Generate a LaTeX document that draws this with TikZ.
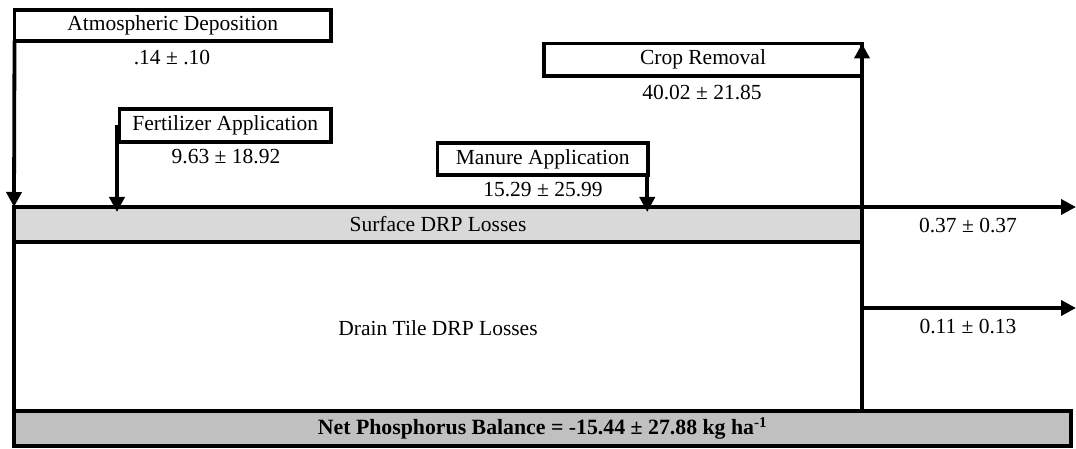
\documentclass[tikz,border=0pt]{standalone}
\usepackage{fontspec}
\setmainfont{Liberation Serif}
\usetikzlibrary{arrows.meta}
\definecolor{surfgray}{HTML}{D9D9D9}
\definecolor{netgray}{HTML}{C0C0C0}
\begin{document}
\begin{tikzpicture}[x=1pt,y=-1pt,
  every node/.style={font=\fontsize{21.5}{25}\selectfont, inner sep=0pt, outer sep=0pt},
  boxx/.style={draw, line width=3.8pt, anchor=center},
  lbl/.style={anchor=center},
  flow/.style={line width=3.8pt, -{Triangle[width=15pt,length=15pt]}},
  plain/.style={line width=3.8pt}]
\useasboundingbox (0,0) rectangle (1076,449);
% boxes
\node[boxx, minimum width=316.5pt, minimum height=31pt] (atm) at (172.75,25.5) {Atmospheric Deposition};
\node[boxx, minimum width=211.5pt, minimum height=33pt] (fert) at (225.25,125.5) {Fertilizer Application};
\node[boxx, minimum width=210.5pt, minimum height=32pt] (man) at (542.75,159) {Manure Application};
\node[boxx, minimum width=318pt, minimum height=32.5pt] (crop) at (703,59.75) {Crop Removal};
\node[boxx, fill=surfgray, minimum width=848pt, minimum height=35pt] (surf) at (438,224.5) {Surface DRP Losses};
\node[boxx, fill=netgray, minimum width=1057pt, minimum height=35pt, font=\fontsize{21.8}{25}\selectfont\bfseries] (net) at (542.5,428.5) {Net Phosphorus Balance = -15.44 ± 27.88 kg ha\textsuperscript{\fontsize{15}{15}\selectfont -1}};
% value labels
\node[lbl] (vatm) at (172,58) {.14 ± .10};
\node[lbl] (vfert) at (226,157) {9.63 ± 18.92};
\node[lbl] (vman) at (543,190) {15.29 ± 25.99};
\node[lbl] (vcrop) at (702,93) {40.02 ± 21.85};
\node[lbl] (drain) at (438,328) {Drain Tile DRP Losses};
\node[lbl] (vsurf) at (968,226) {0.37 ± 0.37};
\node[lbl] (vtile) at (968,327) {0.11 ± 0.13};
% free ends
\coordinate (o1) at (1076,207);
\coordinate (o2) at (1076,308);
% inputs
\draw[flow] (atm.south west) -- (surf.north west);
\draw[flow, shorten >=-5pt] (fert.west) ++(-2.5,0) -- ([xshift=-2.5pt]fert.west |- surf.north);
\draw[flow, shorten >=-5pt] ([xshift=-0.75pt]man.south east) -- ([xshift=-0.75pt]man.south east |- surf.north);
% side lines
\draw[plain] (surf.south west) -- (surf.south west |- net.north);
\draw[flow] (surf.east |- net.north) -- (crop.north east);
% outputs
\draw[flow] (surf.north east) -- (o1);
\draw[flow] (surf.east |- o2) -- (o2);
\end{tikzpicture}
\end{document}
